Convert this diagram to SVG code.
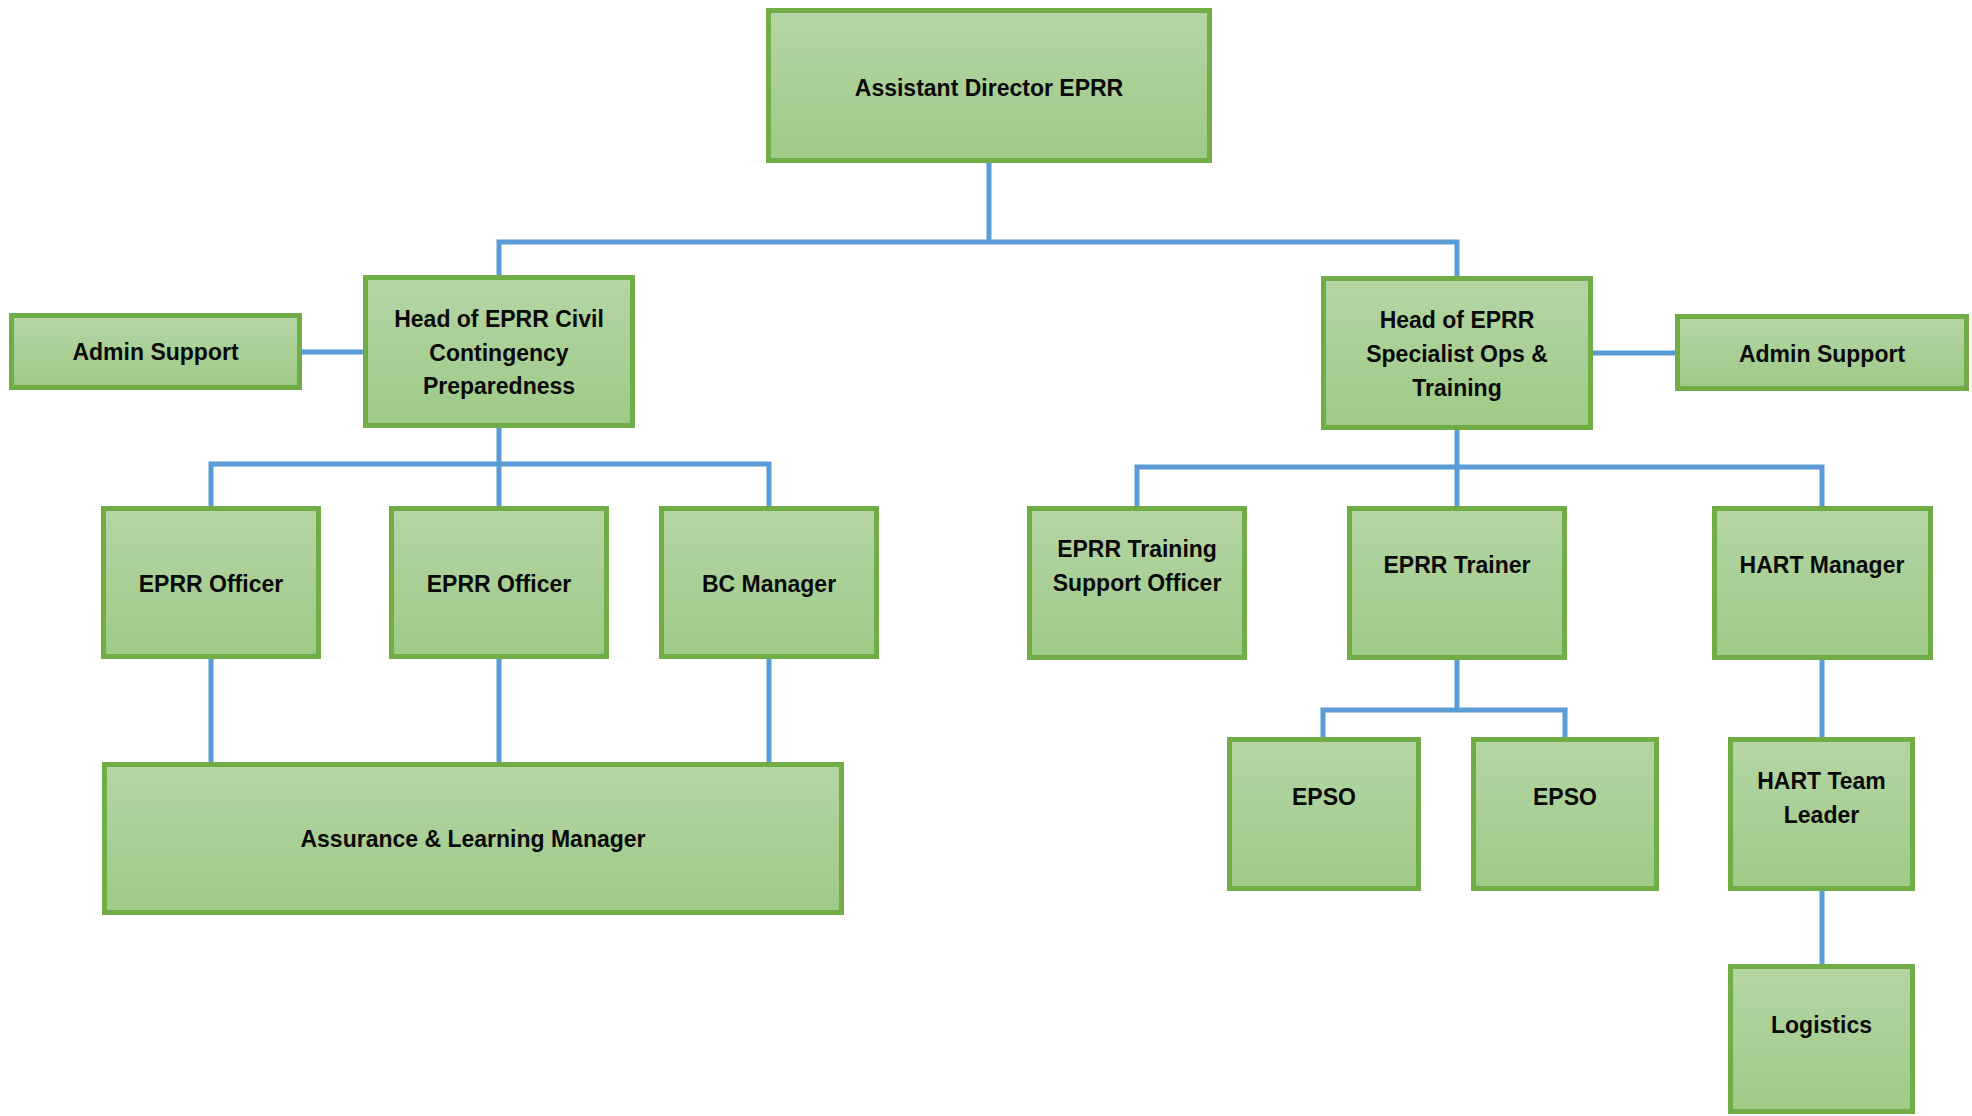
<svg xmlns="http://www.w3.org/2000/svg" width="1972" height="1116" viewBox="0 0 1972 1116">
<defs>
<linearGradient id="g" x1="0" y1="0" x2="0" y2="1">
<stop offset="0" stop-color="#B5D5A5"/>
<stop offset="1" stop-color="#9ECA86"/>
</linearGradient>
<style>
.box{fill:url(#g);stroke:#70AD47;stroke-width:5}
.t{font-family:"Liberation Sans",Arial,sans-serif;font-weight:bold;font-size:23px;fill:#0A0A0A;text-anchor:middle}
.c{fill:none;stroke:#5B9BD5;stroke-width:5;stroke-linejoin:miter}
</style>
</defs>
<rect width="1972" height="1116" fill="#FFFFFF"/>
<g id="connectors">
<path class="c" d="M989 163V242M499 275V242H1457V276"/>
<path class="c" d="M302 352H363M1593 353H1675"/>
<path class="c" d="M499 428V506M211 506V464H769V506"/>
<path class="c" d="M211 659V762M499 659V762M769 659V762"/>
<path class="c" d="M1457 430V506M1137 506V467H1822V506"/>
<path class="c" d="M1457 660V710M1323 737V710H1565V737"/>
<path class="c" d="M1822 660V737M1822 891V964"/>
</g>
<g id="n-assistant-director"><rect class="box" x="768.5" y="10.5" width="441" height="150"/><text class="t" x="989" y="96">Assistant Director EPRR</text></g>
<g id="n-admin-left"><rect class="box" x="11.5" y="315.5" width="288" height="72"/><text class="t" x="155.5" y="360">Admin Support</text></g>
<g id="n-head-civil"><rect class="box" x="365.5" y="277.5" width="267" height="148"/><text class="t" x="499" y="327">Head of EPRR Civil</text><text class="t" x="499" y="361">Contingency</text><text class="t" x="499" y="394">Preparedness</text></g>
<g id="n-head-specialist"><rect class="box" x="1323.5" y="278.5" width="267" height="149"/><text class="t" x="1457" y="328">Head of EPRR</text><text class="t" x="1457" y="362">Specialist Ops &amp;</text><text class="t" x="1457" y="396">Training</text></g>
<g id="n-admin-right"><rect class="box" x="1677.5" y="316.5" width="289" height="72"/><text class="t" x="1822" y="362">Admin Support</text></g>
<g id="n-officer-1"><rect class="box" x="103.5" y="508.5" width="215" height="148"/><text class="t" x="211" y="592">EPRR Officer</text></g>
<g id="n-officer-2"><rect class="box" x="391.5" y="508.5" width="215" height="148"/><text class="t" x="499" y="592">EPRR Officer</text></g>
<g id="n-bc-manager"><rect class="box" x="661.5" y="508.5" width="215" height="148"/><text class="t" x="769" y="592">BC Manager</text></g>
<g id="n-assurance"><rect class="box" x="104.5" y="764.5" width="737" height="148"/><text class="t" x="473" y="847">Assurance &amp; Learning Manager</text></g>
<g id="n-training-support"><rect class="box" x="1029.5" y="508.5" width="215" height="149"/><text class="t" x="1137" y="557">EPRR Training</text><text class="t" x="1137" y="591">Support Officer</text></g>
<g id="n-trainer"><rect class="box" x="1349.5" y="508.5" width="215" height="149"/><text class="t" x="1457" y="573">EPRR Trainer</text></g>
<g id="n-hart-manager"><rect class="box" x="1714.5" y="508.5" width="216" height="149"/><text class="t" x="1822" y="573">HART Manager</text></g>
<g id="n-epso-1"><rect class="box" x="1229.5" y="739.5" width="189" height="149"/><text class="t" x="1324" y="805">EPSO</text></g>
<g id="n-epso-2"><rect class="box" x="1473.5" y="739.5" width="183" height="149"/><text class="t" x="1565" y="805">EPSO</text></g>
<g id="n-hart-team-leader"><rect class="box" x="1730.5" y="739.5" width="182" height="149"/><text class="t" x="1821.5" y="789">HART Team</text><text class="t" x="1821.5" y="823">Leader</text></g>
<g id="n-logistics"><rect class="box" x="1730.5" y="966.5" width="182" height="145"/><text class="t" x="1821.5" y="1033">Logistics</text></g>
</svg>
